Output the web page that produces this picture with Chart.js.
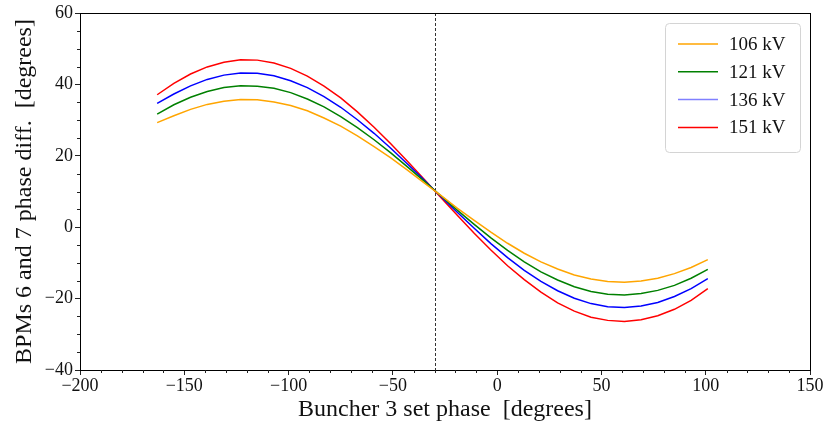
<!DOCTYPE html>
<html lang="en">
<head>
    <meta charset="UTF-8">
    <title>Buncher 3 phase scan</title>
    <script src="https://cdn.jsdelivr.net/npm/chart.js"></script>
    <style>
        html, body { margin: 0; padding: 0; background: #fff; }
        canvas { display: block; }
    </style>
</head>
<body>
    <canvas id="myChart" width="826" height="424"></canvas>

    <script>
        // buncher 3 set phase [deg]
        const phases = [-163, -155, -147, -139, -131, -123, -115, -107, -99, -91, -83, -75, -67, -59, -51, -43, -35,
                        -27, -19, -11, -3, 5, 13, 21, 29, 37, 45, 53, 61, 69, 77, 85, 93, 101];

        const labels = ['106 kV', '121 kV', '136 kV', '151 kV'];

        // BPM 6/7 phase difference [deg]
        const diff106 = [29.3, 31.2, 33.0, 34.4, 35.3, 35.8, 35.7, 35.1, 34.1, 32.6, 30.6, 28.3, 25.6, 22.6, 19.4, 16.0, 12.4,
                         8.9, 5.3, 1.9, -1.4, -4.5, -7.3, -9.7, -11.7, -13.4, -14.5, -15.2, -15.4, -15.1, -14.3, -13.0, -11.3, -9.1];
        const diff121 = [31.7, 34.3, 36.4, 38.0, 39.1, 39.6, 39.5, 38.9, 37.7, 35.9, 33.7, 31.0, 27.9, 24.5, 20.8, 16.9, 12.9,
                         8.8, 4.7, 0.8, -3.0, -6.5, -9.7, -12.5, -14.8, -16.7, -18.0, -18.8, -19.0, -18.6, -17.7, -16.3, -14.3, -11.8];
        const diff136 = [34.7, 37.3, 39.6, 41.4, 42.6, 43.2, 43.1, 42.4, 41.0, 39.1, 36.6, 33.6, 30.1, 26.3, 22.1, 17.7, 13.2,
                         8.6, 4.1, -0.3, -4.6, -8.5, -12.1, -15.2, -17.8, -19.9, -21.4, -22.3, -22.5, -22.1, -21.1, -19.4, -17.2, -14.4];
        const diff151 = [37.1, 40.3, 42.9, 44.9, 46.2, 46.9, 46.8, 46.0, 44.5, 42.3, 39.5, 36.2, 32.3, 28.0, 23.4, 18.5, 13.4,
                         8.3, 3.3, -1.7, -6.4, -10.8, -14.7, -18.2, -21.2, -23.5, -25.2, -26.1, -26.4, -25.9, -24.8, -23.0, -20.5, -17.2];

        const xTicks = [-200, -150, -100, -50, 0, 50, 100, 150];
        const yTicks = [-40, -20, 0, 20, 40, 60];
        const markerPhase = -30;

        const colors = ['#ffa500', '#008000', '#0000ff', '#ff0000'];
        const legendColors = ['#ffa500', '#008000', '#8080ff', '#ff0000'];
        const serif = '"Liberation Serif", "Times New Roman", serif';

        const series = [diff106, diff121, diff136, diff151];
        const datasets = series.map((ys, i) => ({
            label: labels[i],
            data: phases.map((x, j) => ({ x: x, y: ys[j] })),
            borderColor: colors[i],
            borderWidth: 1.5,
            pointRadius: 0,
            tension: 0,
            fill: false
        }));

        const minus = v => String(v).replace('-', '\u2212');

        const extras = {
            id: 'extras',
            beforeDatasetsDraw(chart) {
                const { ctx, chartArea: a, scales: { x } } = chart;
                const px = Math.round(x.getPixelForValue(markerPhase)) + 0.5;
                ctx.save();
                ctx.strokeStyle = '#333';
                ctx.lineWidth = 1;
                ctx.setLineDash([3, 2]);
                ctx.beginPath();
                ctx.moveTo(px, a.top);
                ctx.lineTo(px, a.bottom);
                ctx.stroke();
                ctx.restore();
            },
            afterDraw(chart) {
                const { ctx, chartArea: a, scales: { x, y } } = chart;
                ctx.save();
                // frame
                ctx.strokeStyle = '#000';
                ctx.lineWidth = 1;
                ctx.strokeRect(Math.round(a.left) + 0.5, Math.round(a.top) + 0.5,
                    Math.round(a.right - a.left), Math.round(a.bottom - a.top));

                // minor ticks
                ctx.strokeStyle = '#222';
                ctx.beginPath();
                for (let v = -200; v <= 150; v += 10) {
                    if (v % 50 === 0) continue;
                    const px = Math.round(x.getPixelForValue(v)) + 0.5;
                    ctx.moveTo(px, a.bottom);
                    ctx.lineTo(px, a.bottom + 3);
                }
                for (let v = -40; v <= 60; v += 5) {
                    if (v % 20 === 0) continue;
                    const py = Math.round(y.getPixelForValue(v)) + 0.5;
                    ctx.moveTo(a.left, py);
                    ctx.lineTo(a.left - 3, py);
                }
                ctx.stroke();

                // legend
                const bx = 665, by = 23, bw = 135, bh = 129;
                ctx.fillStyle = 'rgba(255,255,255,0.85)';
                ctx.strokeStyle = '#d4d4d4';
                ctx.beginPath();
                ctx.roundRect(bx + 0.5, by + 0.5, bw, bh, 4);
                ctx.fill();
                ctx.stroke();
                ctx.font = '19px ' + serif;
                ctx.textBaseline = 'middle';
                chart.data.datasets.forEach((ds, i) => {
                    const ly = by + 21 + i * 27.8;
                    ctx.strokeStyle = legendColors[i];
                    ctx.lineWidth = 1.5;
                    ctx.beginPath();
                    ctx.moveTo(bx + 13, ly);
                    ctx.lineTo(bx + 53, ly);
                    ctx.stroke();
                    ctx.fillStyle = '#111';
                    ctx.fillText(ds.label, bx + 64, ly + 1);
                });
                ctx.restore();
            }
        };

        const ctx = document.getElementById('myChart').getContext('2d');
        const chart = new Chart(ctx, {
            type: 'line',
            data: { datasets: datasets },
            options: {
                responsive: false,
                animation: false,
                devicePixelRatio: 1,
                layout: { padding: { top: 13, right: 16, left: 0, bottom: 0 } },
                plugins: {
                    legend: { display: false },
                    tooltip: { enabled: false }
                },
                scales: {
                    x: {
                        type: 'linear',
                        min: -200,
                        max: 150,
                        afterFit: s => { s.height = 54; },
                        afterBuildTicks: s => { s.ticks = xTicks.map(v => ({ value: v })); },
                        ticks: {
                            color: '#111',
                            font: { family: serif, size: 18 },
                            padding: 0,
                            maxRotation: 0,
                            callback: v => minus(v)
                        },
                        grid: { drawOnChartArea: false, drawTicks: true, tickLength: 5, color: '#222' },
                        border: { display: true, color: '#000' },
                        title: {
                            display: true,
                            text: 'Buncher 3 set phase  [degrees]',
                            color: '#111',
                            font: { family: serif, size: 24 },
                            padding: { top: 0, bottom: 0 }
                        }
                    },
                    y: {
                        type: 'linear',
                        min: -40,
                        max: 60,
                        afterFit: s => { s.width = 80; },
                        afterBuildTicks: s => { s.ticks = yTicks.map(v => ({ value: v })); },
                        ticks: {
                            color: '#111',
                            font: { family: serif, size: 18 },
                            padding: 2,
                            callback: v => minus(v)
                        },
                        grid: { drawOnChartArea: false, drawTicks: true, tickLength: 5, color: '#222' },
                        border: { display: true, color: '#000' },
                        title: {
                            display: true,
                            text: 'BPMs 6 and 7 phase diff.  [degrees]',
                            color: '#111',
                            font: { family: serif, size: 24 },
                            padding: { top: 10, bottom: 0 }
                        }
                    }
                }
            },
            plugins: [extras]
        });
    </script>
</body>
</html>
